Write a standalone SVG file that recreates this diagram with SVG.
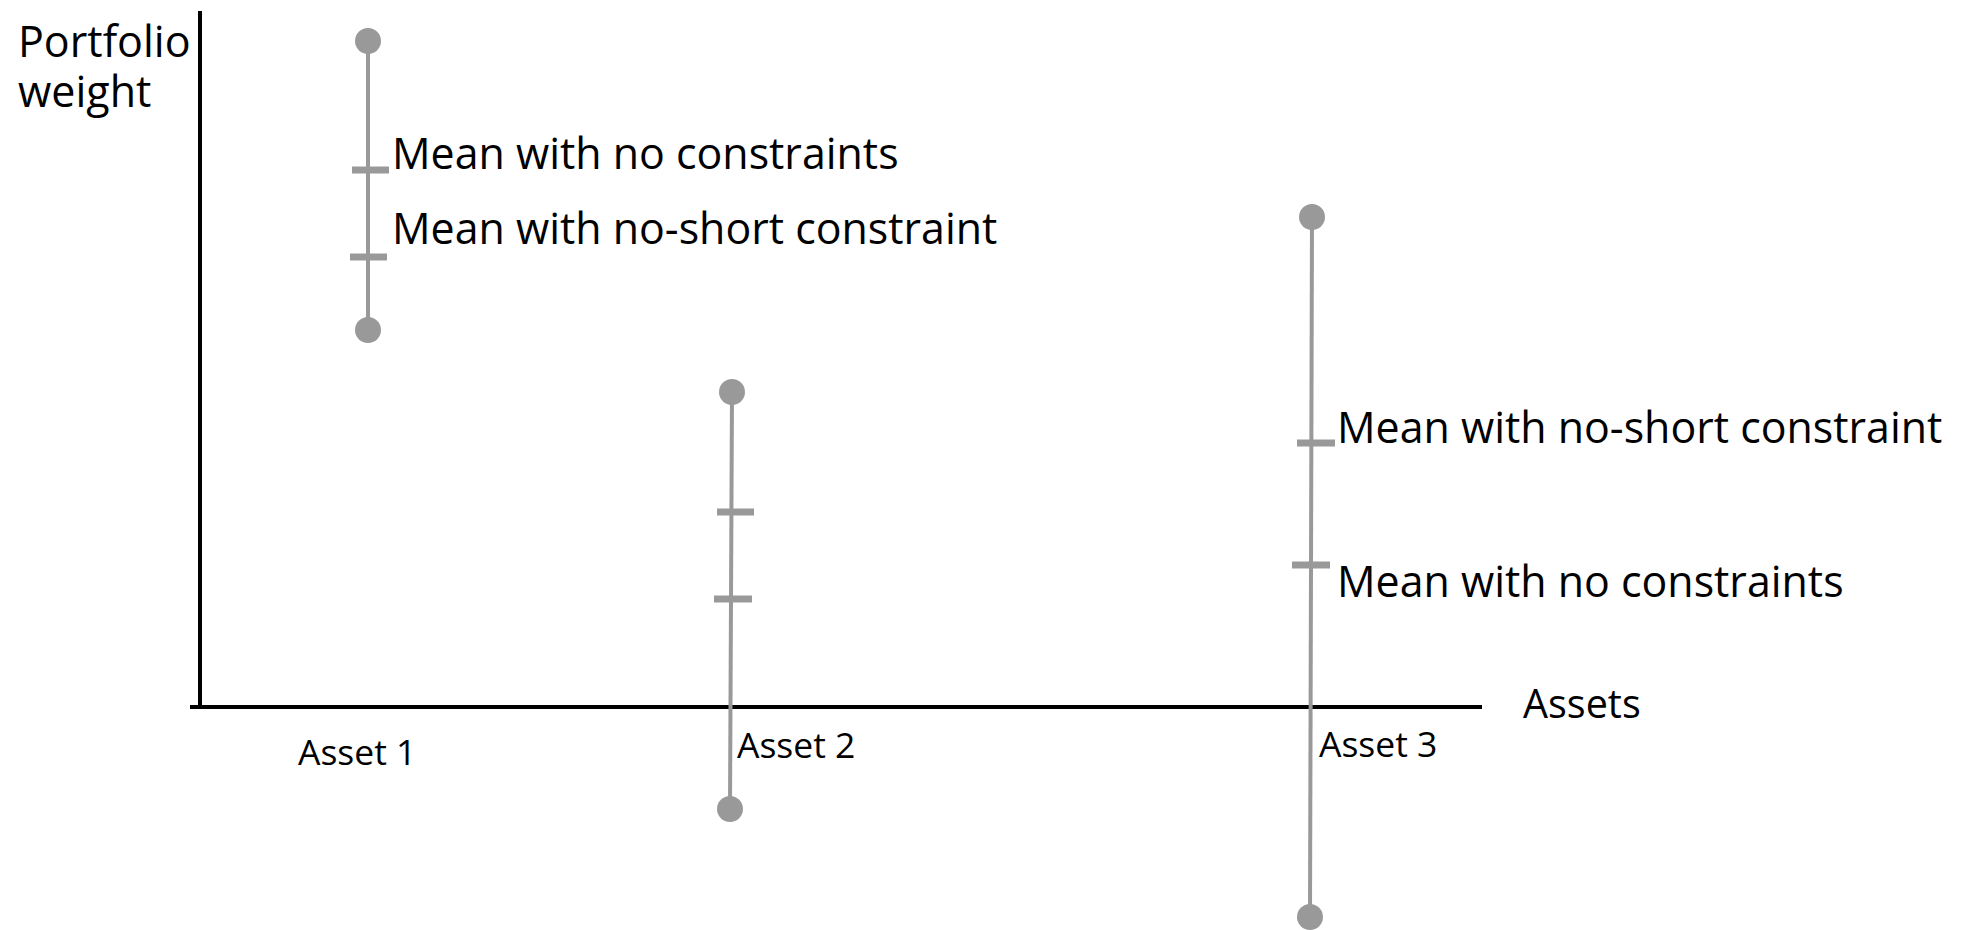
<svg xmlns="http://www.w3.org/2000/svg" width="1966" height="930" viewBox="0 0 1966 930">
<style>
.axis{stroke:#000;stroke-width:4;fill:none}
.bar{stroke:#999;stroke-width:4;fill:none}
.tick{stroke:#999;stroke-width:7;fill:none}
.dot{fill:#999}
.big{font-family:"Open Sans","Liberation Sans",sans-serif;font-size:42.9px;fill:#000}
.axl{font-family:"Open Sans","Liberation Sans",sans-serif;font-size:43px;fill:#000}
.ast{font-family:"Open Sans","Liberation Sans",sans-serif;font-size:35.5px;fill:#000}
</style>
<rect width="1966" height="930" fill="#fff"/>
<g id="axes">
<line class="axis" x1="200" y1="11" x2="200" y2="709"/>
<line class="axis" x1="190" y1="707" x2="1482" y2="707"/>
<text class="axl" x="18" y="57">Portfolio<tspan x="18" y="107">weight</tspan></text>
<text class="axl" x="1523" y="718" style="font-size:39.5px">Assets</text>
</g>
<g id="connectors">
<line class="bar" x1="368" y1="41" x2="368" y2="330"/>
<line class="bar" x1="732" y1="392" x2="730" y2="809"/>
<line class="bar" x1="1312" y1="217" x2="1310" y2="917"/>
</g>
<g id="asset1">
<circle class="dot" cx="368" cy="41" r="13"/>
<circle class="dot" cx="368" cy="330" r="13"/>
<line class="tick" x1="352" y1="170" x2="389" y2="170"/>
<line class="tick" x1="350" y1="257" x2="387" y2="257"/>
<text class="big" x="392" y="169">Mean with no constraints</text>
<text class="big" x="392" y="244">Mean with no-short constraint</text>
<text class="ast" x="298" y="765">Asset 1</text>
</g>
<g id="asset2">
<circle class="dot" cx="732" cy="392" r="13"/>
<circle class="dot" cx="730" cy="809" r="13"/>
<line class="tick" x1="717" y1="512" x2="754" y2="512"/>
<line class="tick" x1="714" y1="599" x2="752" y2="599"/>
<text class="ast" x="737" y="758">Asset 2</text>
</g>
<g id="asset3">
<circle class="dot" cx="1312" cy="217" r="13"/>
<circle class="dot" cx="1310" cy="917" r="13"/>
<line class="tick" x1="1297" y1="443" x2="1335" y2="443"/>
<line class="tick" x1="1292" y1="565" x2="1330" y2="565"/>
<text class="big" x="1337" y="443">Mean with no-short constraint</text>
<text class="big" x="1337" y="597">Mean with no constraints</text>
<text class="ast" x="1319" y="757">Asset 3</text>
</g>
</svg>
